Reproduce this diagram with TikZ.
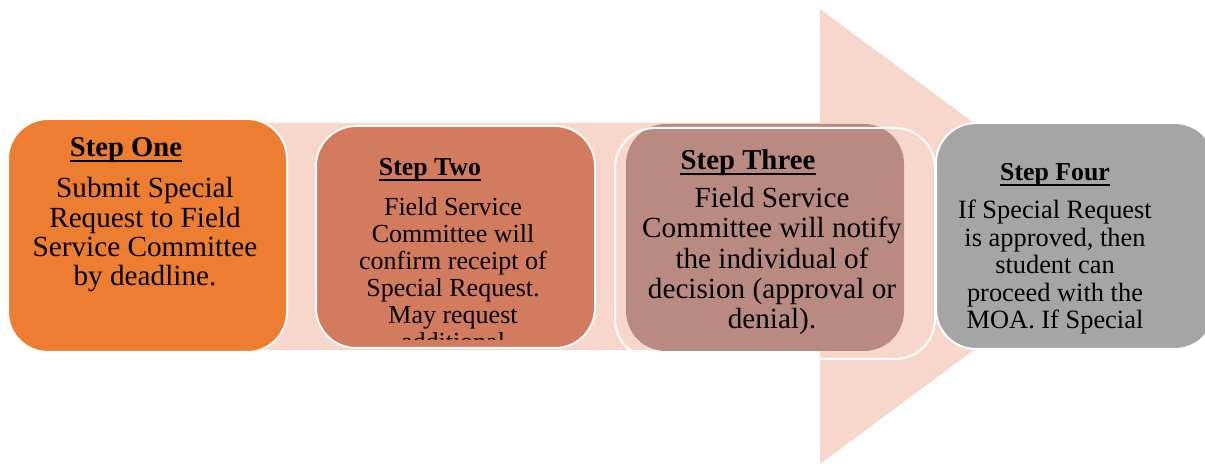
\documentclass[tikz,border=0pt]{standalone}
\usepackage{fontspec}
\setmainfont{Liberation Serif}
\definecolor{arrowpink}{HTML}{F7D6CB}
\definecolor{stepone}{HTML}{ED7D31}
\definecolor{steptwo}{HTML}{D27B5E}
\definecolor{stepthree}{HTML}{B98A82}
\definecolor{stepfour}{HTML}{A5A5A5}
\begin{document}
\begin{tikzpicture}[x=0.5pt, y=-0.5pt,
		stepbox/.style={draw=white, line width=1pt, rounded corners=20pt, inner sep=0pt},
		steptitle/.style={anchor=base, inner sep=0pt, font=\rmfamily\bfseries\fontsize{#1}{#1}\selectfont},
		stepbody/.style={anchor=north, inner sep=0pt, align=center},
		titleline/.style={line width=1pt}]
		\useasboundingbox (0,0) rectangle (1205,464);
		% big arrow behind the steps
		\fill[arrowpink] (60,123)--(820,123)--(820,9)--(1127,236.5)--(820,464)--(820,350)--(60,350)--cycle;
		% step one
		\node[stepbox, fill=stepone, minimum width=139.5pt, minimum height=116.5pt] (one) at (147.5,235.5) {};
		\node[steptitle=14.3] (onetitle) at (126,157) {Step One};
		\draw[titleline] ([yshift=-2pt]onetitle.base west) -- ([yshift=-2pt]onetitle.base east);
		\node[stepbody, font=\rmfamily\fontsize{14.6}{14.7}\selectfont] (onetext) at (145,177)
			{Submit Special\\Request to Field\\Service Committee\\by deadline.};
		% step two
		\node[stepbox, fill=steptwo, minimum width=139.5pt, minimum height=111pt] (two) at (455.5,237) {};
		\node[steptitle=12.9] (twotitle) at (430,176) {Step Two};
		\draw[titleline] ([yshift=-2pt]twotitle.base west) -- ([yshift=-2pt]twotitle.base east);
		\begin{scope}
			\clip (316,126) rectangle (595,340);
			\node[stepbody, font=\rmfamily\fontsize{13}{13.5}\selectfont] (twotext) at (453,197)
				{Field Service\\Committee will\\confirm receipt of\\Special Request.\\May request\\additional};
		\end{scope}
		% step three
		\node[stepbox, draw=none, fill=stepthree, minimum width=139pt, minimum height=113.5pt] (three) at (765,237.5) {};
		\node[stepbox, minimum width=160pt, minimum height=115.5pt] (threeframe) at (775,243.5) {};
		\node[steptitle=14.4] (threetitle) at (748,170) {Step Three};
		\draw[titleline] ([yshift=-2pt]threetitle.base west) -- ([yshift=-2pt]threetitle.base east);
		\node[stepbody, font=\rmfamily\fontsize{14.6}{15.1}\selectfont] (threetext) at (772,187)
			{Field Service\\Committee will notify\\the individual of\\decision (approval or\\denial).};
		% step four
		\node[stepbox, fill=stepfour, minimum width=139.5pt, minimum height=113pt] (four) at (1075.5,236) {};
		\node[steptitle=12.9] (fourtitle) at (1055,181) {Step Four};
		\draw[titleline] ([yshift=-2pt]fourtitle.base west) -- ([yshift=-2pt]fourtitle.base east);
		\begin{scope}
			\clip (936,123) rectangle (1205,336);
			\node[stepbody, font=\rmfamily\fontsize{13.2}{13.75}\selectfont] (fourtext) at (1055,200)
				{If Special Request\\is approved, then\\student can\\proceed with the\\MOA. If Special};
		\end{scope}
	\end{tikzpicture}
\end{document}
